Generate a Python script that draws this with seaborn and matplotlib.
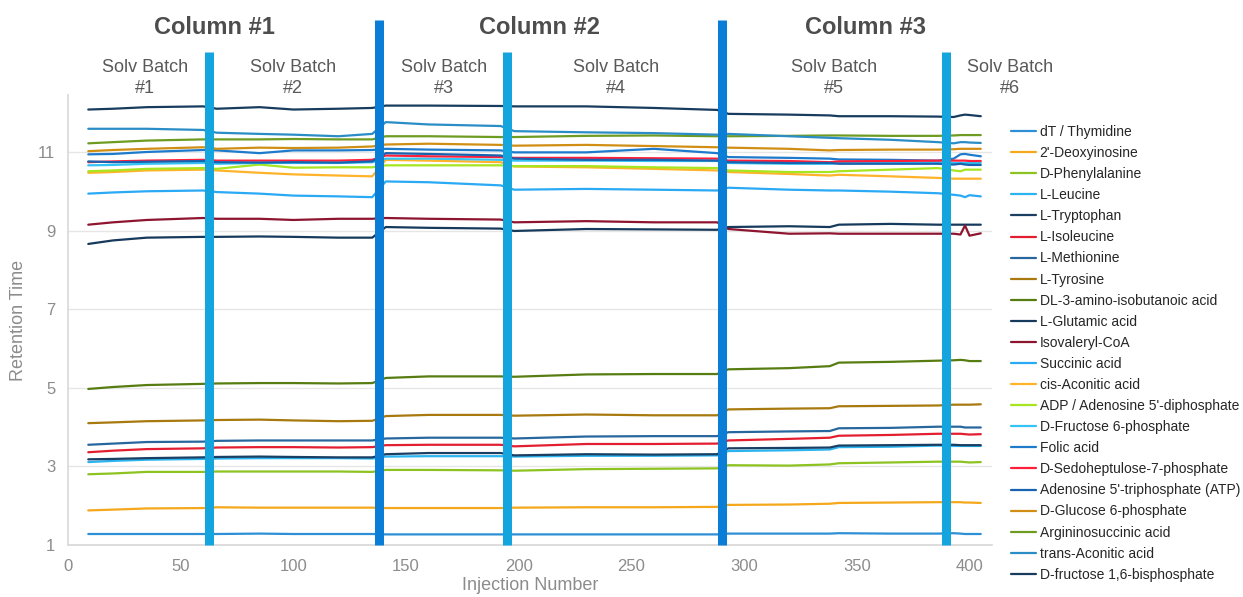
import pandas as pd
import matplotlib.pyplot as plt
import seaborn as sns

injection = [9, 20, 35, 60, 66, 85, 100, 120, 135, 141, 160, 192, 198, 230,
             260, 288, 293, 320, 338, 342, 365, 386, 393, 396, 398, 400, 405]

thymidine = [1.28, 1.28, 1.28, 1.28, 1.28, 1.29, 1.28, 1.28, 1.28, 1.27, 1.27, 1.27, 1.27, 1.27,
             1.27, 1.27, 1.29, 1.29, 1.29, 1.30, 1.29, 1.29, 1.30, 1.29, 1.28, 1.28, 1.28]
deoxyinosine = [1.88, 1.90, 1.93, 1.94, 1.96, 1.95, 1.95, 1.95, 1.95, 1.94, 1.94, 1.94, 1.95, 1.96,
                1.96, 1.97, 2.02, 2.03, 2.05, 2.07, 2.08, 2.09, 2.09, 2.09, 2.08, 2.08, 2.07]
phenylalanine = [2.80, 2.82, 2.86, 2.86, 2.87, 2.87, 2.87, 2.87, 2.86, 2.91, 2.91, 2.90, 2.89, 2.93,
                 2.94, 2.95, 3.03, 3.02, 3.05, 3.08, 3.10, 3.12, 3.12, 3.12, 3.11, 3.10, 3.11]
leucine = [3.11, 3.14, 3.17, 3.19, 3.20, 3.21, 3.21, 3.21, 3.20, 3.25, 3.26, 3.26, 3.25, 3.27,
           3.27, 3.28, 3.39, 3.41, 3.43, 3.49, 3.50, 3.53, 3.52, 3.52, 3.52, 3.52, 3.52]
tryptophan = [3.18, 3.19, 3.21, 3.23, 3.24, 3.25, 3.24, 3.23, 3.23, 3.31, 3.34, 3.34, 3.28, 3.31,
              3.30, 3.31, 3.46, 3.47, 3.48, 3.53, 3.54, 3.55, 3.55, 3.54, 3.54, 3.54, 3.54]
isoleucine = [3.36, 3.40, 3.44, 3.46, 3.48, 3.49, 3.49, 3.48, 3.49, 3.54, 3.55, 3.55, 3.51, 3.57,
              3.57, 3.58, 3.66, 3.70, 3.73, 3.78, 3.80, 3.83, 3.83, 3.83, 3.82, 3.81, 3.82]
methionine = [3.55, 3.58, 3.62, 3.63, 3.65, 3.66, 3.66, 3.66, 3.66, 3.71, 3.73, 3.73, 3.71, 3.76,
              3.77, 3.77, 3.87, 3.89, 3.90, 3.97, 3.98, 4.01, 4.01, 4.01, 3.99, 3.99, 3.99]
tyrosine = [4.10, 4.12, 4.15, 4.17, 4.18, 4.19, 4.17, 4.15, 4.16, 4.28, 4.31, 4.31, 4.29, 4.32,
            4.30, 4.30, 4.45, 4.47, 4.48, 4.53, 4.54, 4.55, 4.57, 4.57, 4.57, 4.57, 4.58]
aminoisobutanoic = [4.97, 5.02, 5.07, 5.10, 5.11, 5.12, 5.12, 5.11, 5.12, 5.25, 5.29, 5.29, 5.28, 5.34,
                    5.35, 5.35, 5.47, 5.50, 5.55, 5.64, 5.66, 5.69, 5.70, 5.71, 5.70, 5.68, 5.68]
glutamic = [8.66, 8.75, 8.82, 8.84, 8.84, 8.85, 8.84, 8.82, 8.82, 9.09, 9.07, 9.05, 8.99, 9.04,
            9.03, 9.02, 9.09, 9.11, 9.09, 9.15, 9.17, 9.15, 9.15, 9.15, 9.15, 9.15, 9.15]
isovaleryl = [9.15, 9.21, 9.27, 9.32, 9.30, 9.30, 9.27, 9.30, 9.30, 9.32, 9.30, 9.28, 9.21, 9.24,
              9.21, 9.21, 9.04, 8.92, 8.93, 8.92, 8.92, 8.92, 8.92, 8.90, 9.13, 8.87, 8.93]
succinic = [9.94, 9.97, 10.00, 10.02, 9.98, 9.94, 9.89, 9.87, 9.85, 10.25, 10.23, 10.15, 10.04, 10.06,
            10.04, 10.02, 10.09, 10.04, 10.02, 10.02, 9.99, 9.95, 9.91, 9.89, 9.85, 9.90, 9.87]
cis_aconitic = [10.47, 10.49, 10.53, 10.55, 10.53, 10.47, 10.43, 10.40, 10.38, 10.80, 10.78, 10.74, 10.63, 10.61,
                10.57, 10.53, 10.49, 10.44, 10.40, 10.42, 10.38, 10.34, 10.32, 10.32, 10.32, 10.32, 10.32]
adp = [10.51, 10.53, 10.57, 10.59, 10.57, 10.68, 10.60, 10.61, 10.61, 10.66, 10.66, 10.66, 10.64, 10.64,
       10.61, 10.59, 10.53, 10.49, 10.49, 10.51, 10.55, 10.59, 10.53, 10.51, 10.55, 10.55, 10.55]
fructose6p = [10.66, 10.67, 10.70, 10.72, 10.70, 10.72, 10.72, 10.72, 10.74, 10.83, 10.83, 10.80, 10.78, 10.78,
              10.77, 10.77, 10.72, 10.70, 10.70, 10.72, 10.72, 10.72, 10.72, 10.72, 10.72, 10.72, 10.72]
folic = [10.94, 10.95, 11.00, 11.05, 11.04, 10.97, 11.04, 11.04, 11.05, 11.08, 11.06, 11.04, 10.99, 10.99,
         11.08, 10.97, 10.87, 10.85, 10.83, 10.81, 10.80, 10.78, 10.83, 10.94, 10.95, 10.93, 10.89]
sedoheptulose = [10.74, 10.76, 10.78, 10.80, 10.78, 10.78, 10.78, 10.78, 10.80, 10.91, 10.89, 10.87, 10.85, 10.85,
                 10.84, 10.83, 10.78, 10.77, 10.74, 10.76, 10.77, 10.78, 10.78, 10.78, 10.78, 10.77, 10.77]
atp = [10.76, 10.74, 10.75, 10.77, 10.74, 10.73, 10.74, 10.73, 10.76, 10.97, 10.95, 10.91, 10.83, 10.80,
       10.80, 10.78, 10.74, 10.72, 10.72, 10.70, 10.70, 10.70, 10.68, 10.70, 10.68, 10.67, 10.67]
glucose6p = [11.02, 11.05, 11.08, 11.12, 11.08, 11.11, 11.10, 11.11, 11.14, 11.19, 11.21, 11.18, 11.16, 11.18,
             11.15, 11.12, 11.11, 11.08, 11.04, 11.05, 11.06, 11.06, 11.07, 11.08, 11.08, 11.08, 11.08]
argininosuccinic = [11.22, 11.25, 11.29, 11.32, 11.32, 11.32, 11.33, 11.32, 11.32, 11.40, 11.40, 11.38, 11.38, 11.41,
                    11.42, 11.40, 11.40, 11.41, 11.42, 11.42, 11.41, 11.41, 11.42, 11.43, 11.43, 11.43, 11.43]
trans_aconitic = [11.59, 11.59, 11.59, 11.56, 11.49, 11.46, 11.44, 11.40, 11.46, 11.76, 11.70, 11.66, 11.53, 11.50,
                  11.48, 11.44, 11.46, 11.40, 11.36, 11.35, 11.31, 11.25, 11.22, 11.25, 11.25, 11.24, 11.23]
fructose16bp = [12.08, 12.10, 12.14, 12.16, 12.10, 12.14, 12.08, 12.10, 12.12, 12.18, 12.18, 12.17, 12.16, 12.16,
                12.12, 12.07, 11.97, 11.95, 11.93, 11.91, 11.91, 11.90, 11.89, 11.93, 11.95, 11.94, 11.91]

compounds = ["dT / Thymidine", "2'-Deoxyinosine", "D-Phenylalanine", "L-Leucine", "L-Tryptophan",
             "L-Isoleucine", "L-Methionine", "L-Tyrosine", "DL-3-amino-isobutanoic acid",
             "L-Glutamic acid", "Isovaleryl-CoA", "Succinic acid", "cis-Aconitic acid",
             "ADP / Adenosine 5'-diphosphate", "D-Fructose 6-phosphate", "Folic acid",
             "D-Sedoheptulose-7-phosphate", "Adenosine 5'-triphosphate (ATP)", "D-Glucose 6-phosphate",
             "Argininosuccinic acid", "trans-Aconitic acid", "D-fructose 1,6-bisphosphate"]
series = [thymidine, deoxyinosine, phenylalanine, leucine, tryptophan, isoleucine, methionine,
          tyrosine, aminoisobutanoic, glutamic, isovaleryl, succinic, cis_aconitic, adp, fructose6p,
          folic, sedoheptulose, atp, glucose6p, argininosuccinic, trans_aconitic, fructose16bp]
colors = ["#2D8FD5", "#F5A81C", "#8CC320", "#2BB5F0", "#1B3F63", "#E31E30", "#27679E", "#A8790E",
          "#577D12", "#163A5C", "#8E1530", "#2AA9F5", "#FFB32A", "#A6E51F", "#33C4F5", "#1E7ACB",
          "#FF1F3A", "#1763B0", "#D08F14", "#6E9B22", "#2B8DC6", "#173C5E"]

# Batch / column boundaries and header labels
solv_breaks = [62.4, 195.0, 389.5]
column_breaks = [137.9, 290.2]
column_labels = ["Column #1", "Column #2", "Column #3"]
column_label_x = [65, 209, 354]
batch_labels = ["Solv Batch\n#1", "Solv Batch\n#2", "Solv Batch\n#3",
                "Solv Batch\n#4", "Solv Batch\n#5", "Solv Batch\n#6"]
batch_label_x = [34, 100, 167, 243, 340, 418]

rows = []
for name, vals in zip(compounds, series):
    for inj, rt in zip(injection, vals):
        rows.append({"Injection": inj, "RT": rt, "Compound": name})
df = pd.DataFrame(rows)

sns.set_theme(style="white")
plt.rcParams['font.family'] = ['Liberation Sans', 'DejaVu Sans']

fig = plt.figure(figsize=(12.43, 5.97), dpi=100)
ax = fig.add_axes([0.0547, 0.0871, 0.7434, 0.7538])

sns.lineplot(data=df, x="Injection", y="RT", hue="Compound", hue_order=compounds,
             palette=dict(zip(compounds, colors)), linewidth=1.6, ax=ax)

ax.set_xlim(0, 410)
ax.set_ylim(1, 12.45)
ax.set_xticks(range(0, 401, 50))
ax.set_yticks([1, 3, 5, 7, 9, 11])
ax.grid(axis="y", color="#E6E6E6", linewidth=1)
ax.tick_params(axis="x", colors="#8C8C8C", labelsize=12, length=0, pad=10)
ax.tick_params(axis="y", colors="#8C8C8C", labelsize=12, length=0, pad=9)
for side in ["top", "right"]:
    ax.spines[side].set_visible(False)
for side in ["left", "bottom"]:
    ax.spines[side].set_color("#D9D9D9")
ax.set_xlabel("Injection Number", fontsize=13, color="#8C8C8C", labelpad=2)
ax.set_ylabel("Retention Time", fontsize=13, color="#8C8C8C", labelpad=8)

for xb in solv_breaks:
    ax.axvline(xb, ymin=0, ymax=1.096, color="#14A5DF", linewidth=6.5, clip_on=False,
               zorder=5, solid_capstyle="butt")
for xb in column_breaks:
    ax.axvline(xb, ymin=0, ymax=1.167, color="#0A7ED6", linewidth=6.5, clip_on=False,
               zorder=5, solid_capstyle="butt")

trans = ax.get_xaxis_transform()
for lbl, xc in zip(column_labels, column_label_x):
    ax.text(xc, 1.151, lbl, transform=trans, ha="center", va="center", fontsize=17,
            fontweight="bold", color="#4D4D4D", clip_on=False)
for lbl, xc in zip(batch_labels, batch_label_x):
    ax.text(xc, 1.037, lbl, transform=trans, ha="center", va="center", fontsize=13,
            color="#595959", clip_on=False, linespacing=1.3)

sns.move_legend(ax, "upper left", bbox_to_anchor=(0.809, 0.8), bbox_transform=fig.transFigure,
                frameon=False, title=None, fontsize=10, handlelength=1.8, handletextpad=0.25,
                labelspacing=0.51, borderaxespad=0)

plt.savefig("out.png", dpi=100)
plt.close()
